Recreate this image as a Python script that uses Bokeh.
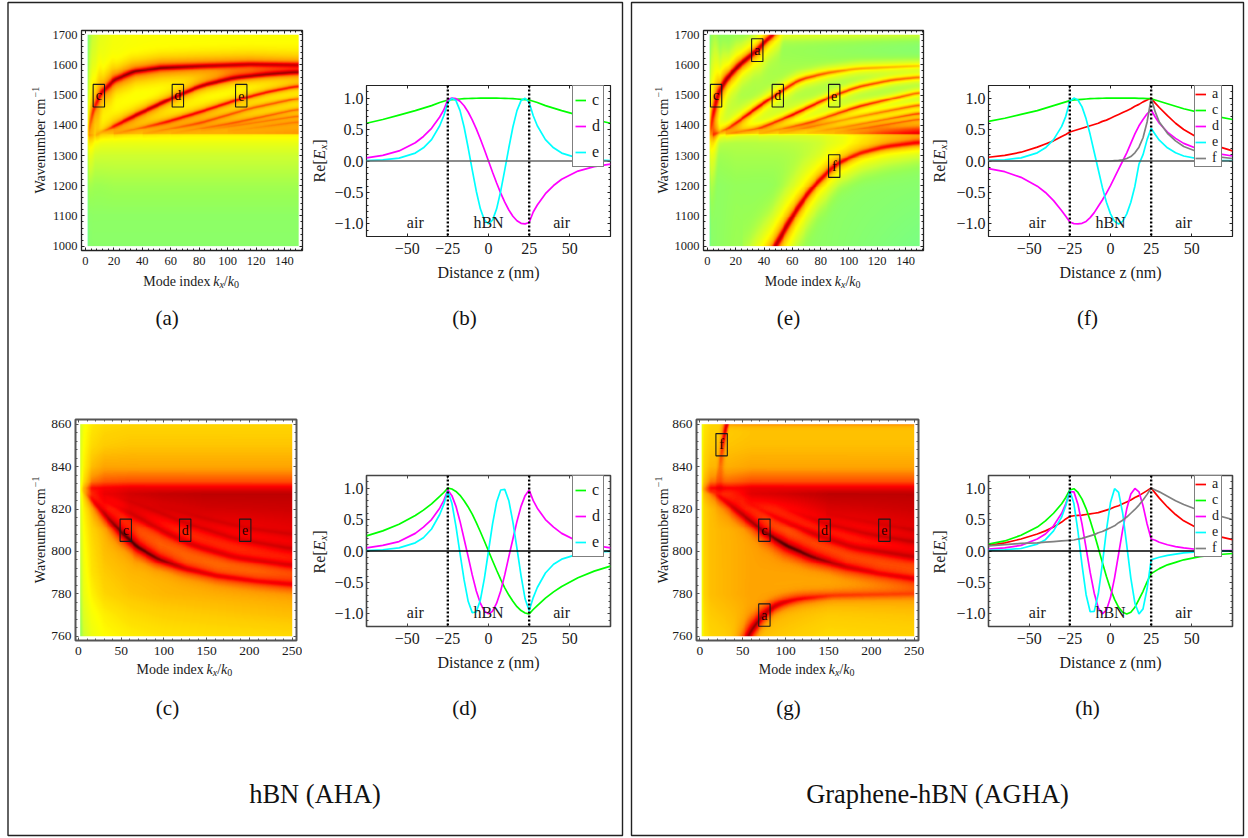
import numpy as np
from bokeh.embed import file_html
from bokeh.resources import INLINE
from bokeh.plotting import figure
from bokeh.core.properties import value
from bokeh.models import (Column, LinearAxis, FixedTicker, LinearColorMapper, Span, Legend, LegendItem)

SERIF = "Liberation Serif"

# ---------- profile data Re[E_x] against z ----------
Z = [-75,-65,-55,-45,-40,-35,-30,-27.5,-25,-22.5,-20,-17.5,-15,-12.5,-10,-7.5,-5,-2.5,0,2.5,5,7.5,10,12.5,15,17.5,20,22.5,25,27.5,30,35,40,45,55,65,75]
B_C = [.60,.66,.73,.80,.84,.88,.93,.95,.97,.975,.98,.985,.99,.993,.995,.997,.999,1,1,1,.999,.997,.995,.993,.99,.985,.98,.975,.97,.95,.93,.88,.84,.80,.73,.66,.60]
B_D = [.05,.09,.16,.29,.39,.52,.70,.81,.977,.999,.99,.949,.878,.779,.655,.51,.349,.178,0,-.178,-.349,-.51,-.655,-.779,-.878,-.949,-.99,-.999,-.977,-.81,-.70,-.52,-.39,-.29,-.16,-.09,-.05]
B_E = [.006,.017,.046,.126,.21,.34,.56,.72,.93,.997,.96,.80,.54,.21,-.14,-.48,-.76,-.94,-1,-.94,-.76,-.48,-.14,.21,.54,.80,.96,.997,.93,.72,.56,.34,.21,.126,.046,.017,.006]
D_C = [.24,.32,.425,.565,.65,.75,.867,.93,1,.985,.947,.885,.80,.70,.585,.45,.306,.155,0,-.155,-.306,-.45,-.585,-.70,-.80,-.885,-.947,-.985,-1,-.93,-.867,-.75,-.65,-.565,-.425,-.32,-.24]
D_D = [.05,.09,.15,.28,.38,.50,.68,.80,.97,.88,.71,.47,.19,-.09,-.38,-.635,-.83,-.957,-1,-.957,-.83,-.635,-.38,-.09,.19,.47,.71,.88,.97,.80,.68,.50,.38,.28,.15,.09,.05]
D_E = [.006,.02,.05,.13,.21,.35,.58,.74,.95,.76,.39,-.04,-.46,-.80,-.98,-.97,-.78,-.43,0,.43,.78,.97,.98,.80,.46,.04,-.39,-.76,-.95,-.74,-.58,-.35,-.21,-.13,-.05,-.02,-.006]
F_A = [.06,.09,.14,.22,.27,.32,.39,.42,.46,.48,.50,.52,.54,.56,.58,.60,.63,.65,.68,.71,.74,.77,.80,.83,.87,.90,.94,.97,1,.92,.85,.72,.60,.50,.35,.24,.16]
F_C = [.63,.68,.74,.80,.84,.88,.92,.94,.96,.97,.975,.98,.985,.99,.993,.995,.997,.999,1,1,1,1,1,.999,.998,.996,.995,.992,.99,.97,.95,.91,.87,.83,.77,.71,.66]
F_D = [-.12,-.17,-.26,-.40,-.50,-.63,-.79,-.88,-.97,-.995,-1,-.99,-.96,-.90,-.82,-.72,-.62,-.51,-.39,-.26,-.13,0,.13,.28,.43,.56,.66,.75,.81,.70,.60,.46,.36,.28,.18,.12,.08]
F_E = [.01,.02,.05,.13,.21,.34,.55,.71,.95,1,.97,.86,.67,.42,.14,-.14,-.42,-.655,-.84,-.96,-1,-.96,-.84,-.655,-.40,-.05,.10,.34,.52,.42,.33,.21,.13,.08,.03,.01,.005]
F_F = [0,0,0,0,0,0,0,0,0,0,0,0,0,0,0,0,0,0,0,.005,.01,.02,.04,.07,.13,.22,.37,.62,1,.78,.62,.44,.32,.23,.13,.07,.04]
H_A = [.09,.13,.19,.27,.32,.38,.46,.51,.55,.56,.565,.57,.58,.59,.60,.61,.63,.65,.67,.70,.72,.75,.78,.81,.85,.88,.92,.96,1,.92,.84,.70,.58,.48,.34,.24,.18]
H_C = [.11,.16,.25,.38,.48,.60,.75,.85,.97,.99,.93,.825,.674,.486,.274,.046,-.184,-.404,-.603,-.769,-.895,-.973,-1,-.973,-.895,-.769,-.64,-.49,-.36,-.32,-.28,-.22,-.18,-.14,-.09,-.06,-.04]
H_D = [.03,.05,.09,.19,.27,.40,.60,.75,.94,.94,.74,.426,.047,-.34,-.67,-.905,-1,-.94,-.74,-.426,-.047,.34,.67,.905,.995,.94,.72,.43,.19,.17,.14,.10,.07,.05,.02,.01,.005]
H_E = [.01,.02,.04,.11,.18,.32,.54,.72,.96,.755,.31,-.226,-.695,-.966,-.96,-.68,-.204,.33,.77,.99,.93,.60,.09,-.43,-.83,-1,-.92,-.6,-.14,-.12,-.10,-.07,-.05,-.03,-.01,-.005,0]
H_F = [.08,.10,.12,.13,.14,.15,.16,.165,.17,.175,.19,.20,.22,.24,.26,.29,.31,.34,.37,.40,.45,.49,.54,.60,.66,.73,.81,.90,1,.97,.94,.87,.80,.74,.64,.57,.50]

LINE_COLORS = {"a": "#ff0000", "c": "#00ff00", "d": "#ff00ff", "e": "#00ffff", "f": "#808080"}
PANEL_B = {"c": B_C, "d": B_D, "e": B_E}
PANEL_D = {"c": D_C, "d": D_D, "e": D_E}
PANEL_F = {"a": F_A, "c": F_C, "d": F_D, "e": F_E, "f": F_F}
PANEL_H = {"a": H_A, "c": H_C, "d": H_D, "e": H_E, "f": H_F}

# ---------- heat colour scale ----------
STOP_V = [0, .15, .25, .35, .5, .6, .68, .76, .82, .9, 1]
STOP_R = [0x55, 0x77, 0x99, 0xcc, 0xff, 0xff, 0xff, 0xff, 0xff, 0xc0, 0x30]
STOP_G = [0xff, 0xff, 0xff, 0xff, 0xff, 0xcc, 0x99, 0x44, 0x00, 0x00, 0x00]
STOP_B = [0xcc, 0x88, 0x55, 0x33, 0x00, 0x00, 0x00, 0x00, 0x00, 0x00, 0x00]
_t = np.linspace(0, 1, 256)
PALETTE = ["#%02x%02x%02x" % (int(np.interp(t, STOP_V, STOP_R)), int(np.interp(t, STOP_V, STOP_G)), int(np.interp(t, STOP_V, STOP_B))) for t in _t]
MAPPER = LinearColorMapper(palette=PALETTE, low=0, high=1)

# ---------- ridges of the heat maps: (x, wavenumber, strength, core px, halo strength, halo px) ----------
A_BG_X = [1.5, 2.6, 5, 10, 20, 40, 80, 150]
A_BG_Y = [1000, 1100, 1200, 1300, 1340, 1360, 1367, 1372, 1400, 1450, 1500, 1600, 1700]
A_BG = [[.10,.20,.21,.21,.21,.21,.21,.21],[.10,.20,.22,.22,.22,.22,.22,.22],[.10,.22,.26,.26,.27,.27,.27,.27],[.14,.32,.35,.36,.36,.36,.36,.36],
        [.18,.40,.43,.44,.44,.44,.44,.44],[.22,.46,.50,.50,.50,.50,.50,.50],[.25,.50,.52,.52,.52,.52,.52,.52],[.25,.46,.50,.52,.58,.60,.63,.68],
        [.25,.44,.48,.50,.54,.56,.60,.64],[.22,.40,.46,.48,.50,.50,.52,.54],[.20,.34,.44,.47,.48,.48,.48,.48],[.15,.28,.38,.46,.48,.48,.48,.48],[.12,.24,.34,.42,.47,.49,.49,.49]]
A_R = [([1.6,4.7,10.5,20,34,52.8,81,116,149],[1373,1444,1505,1549,1577,1590,1596,1602,1600],[.14,.18,.22,.25,.26,.26,.24,.22,.20],2.2,.2,13),
       ([7,20,34,50,64.5,81,104,128,149],[1367,1397,1430,1465,1497,1530,1556,1568,1575],[.04,.18,.25,.28,.28,.28,.26,.24,.22],2,.12,8),
       ([20,57,81,110,128,149],[1370,1411,1444,1488,1510,1529],[.03,.18,.22,.24,.24,.22],1.8,.08,6),
       ([40,81,116,149],[1370,1408,1455,1488],[.02,.12,.16,.18],1.6,.05,5),
       ([60,104,149],[1372,1408,1452],[.01,.1,.14],1.4,.03,4),
       ([81,149],[1381,1430],[.01,.1],1.3,.02,4),
       ([100,149],[1380,1411],[.01,.06],1.3,.02,3)]

C_BG_X = [2, 6, 15, 30, 60, 100, 150, 250]
C_BG_Y = [760, 770, 780, 790, 800, 810, 820, 827, 830, 833, 840, 850, 860]
C_BG = [[.22,.36,.45,.50,.53,.55,.56,.57],[.25,.40,.48,.53,.57,.59,.60,.62],[.28,.44,.52,.58,.61,.63,.64,.66],[.30,.46,.55,.60,.63,.64,.66,.72],
        [.33,.48,.56,.62,.65,.70,.74,.80],[.36,.50,.58,.63,.72,.76,.80,.84],[.38,.52,.62,.70,.82,.85,.87,.88],[.40,.55,.72,.82,.87,.89,.90,.90],
        [.42,.60,.78,.82,.84,.84,.84,.84],[.40,.55,.70,.74,.75,.75,.75,.75],[.38,.52,.62,.66,.66,.66,.66,.66],[.38,.50,.57,.60,.61,.61,.61,.61],[.36,.48,.54,.57,.58,.58,.58,.58]]
C_R = [([0,14.4,30,49.5,69,92.4,124,162.6,209.4,250],[830,824.8,817.7,809,802,796.5,791.8,788.3,785.8,784.4],[.02,.08,.14,.18,.2,.18,.14,.12,.10,.10],2.8,.1,10),
       ([22,45.6,73,104,135,182,250],[825.6,820.8,815.3,808.3,802.8,797.3,793.3],[.0,.03,.07,.09,.09,.09,.09],3,.02,6),
       ([26,73,127.5,182,250],[828,821.6,813,806,801.2],[0,.02,.05,.06,.06],2.5,.01,5),
       ([84.6,143,201.6,250],[822.4,816,810.6,808],[0,.03,.04,.04],2.5,0,5)]

E_BG_X = [1.5, 2.6, 6, 20, 80, 150]
E_BG_Y = [1000, 1200, 1300, 1340, 1362, 1367, 1372, 1390, 1420, 1500, 1600, 1700]
E_BG = [[.10,.20,.22,.26,.22,.16],[.10,.20,.22,.24,.22,.20],[.14,.24,.26,.28,.28,.22],[.18,.30,.30,.30,.32,.32],[.20,.34,.36,.36,.38,.40],
        [.22,.36,.38,.40,.42,.44],[.22,.36,.40,.52,.58,.62],[.22,.34,.38,.46,.56,.60],[.20,.30,.32,.36,.42,.48],[.18,.26,.28,.28,.30,.30],[.14,.24,.26,.28,.26,.22],[.12,.20,.22,.24,.20,.15]]
E_R = [([1,3.8,6.8,12.7,22,35.2,42,46.7,52.5],[1373,1439,1499,1549,1598,1649,1683,1703,1731],[.2,.26,.3,.32,.32,.32,.32,.32,.32],2.6,.32,13),
       ([3.8,12.7,24.4,36,49.7,64.3,83,106.5,149],[1367,1384,1422,1461,1505,1549,1571,1588,1597],[.06,.16,.24,.28,.28,.27,.25,.22,.2],1.8,.24,7),
       ([12.7,36,59.6,89.6,106.5,130,149],[1369,1389,1433,1499,1527,1549,1558],[.04,.14,.24,.26,.26,.25,.24],1.6,.22,5),
       ([36,73.7,106.5,149],[1370,1411,1461,1508],[.03,.16,.24,.24],1.5,.18,4.5),
       ([50,106.5,149],[1372,1428,1466],[.02,.14,.2],1.4,.14,4),
       ([70,149],[1372,1439],[.01,.18],1.3,.1,3),
       ([90,149],[1375,1420],[.01,.12],1.2,.06,3)]
E_R2 = ([25,40.8,47.9,55,64.3,73.7,89.6,106.5,125,149],[800,943,998,1058,1130,1191,1266,1306,1328,1342],[.32,.32,.32,.32,.31,.3,.28,.26,.25,.24],3.0,.34,18)

G_BG_X = [2, 4, 12, 60, 150, 250]
G_BG_Y = [760, 770, 780, 790, 800, 810, 820, 827, 830, 833, 840, 850, 860]
G_BG = [[.40,.54,.58,.62,.57,.58],[.40,.56,.60,.64,.60,.61],[.42,.58,.62,.66,.64,.66],[.42,.58,.62,.66,.66,.70],[.42,.58,.62,.66,.72,.80],
        [.42,.58,.62,.66,.78,.84],[.42,.58,.62,.74,.86,.88],[.44,.60,.66,.85,.90,.90],[.46,.62,.78,.84,.84,.84],[.44,.60,.70,.75,.75,.75],[.42,.58,.63,.66,.66,.66],[.42,.56,.60,.62,.62,.62],[.40,.54,.58,.60,.60,.60]]
G_R = [([0,18,41,75,100,131,170,209,250],[830,827,820,809,802.8,797.3,792.5,789.4,787],[.02,.06,.12,.16,.18,.16,.12,.10,.10],2.8,.1,10),
       ([49,88,131,178,250],[824,816,808.3,802,797.3],[.0,.06,.09,.09,.09],3,.02,6),
       ([88,146.6,193,250],[821.6,813,808.3,804.3],[0,.05,.06,.06],2.5,.01,5),
       ([146.6,250],[817.7,809.8],[.01,.04],2.5,0,5),
       ([30,53,64.7,76.4,92,115,154.4,250],[730,758.7,765.8,771.3,775.2,777.6,779.2,780],[.16,.16,.16,.14,.12,.10,.07,.05],2.6,.14,8),
       ([18,21.8,25.3,28.9,31.6],[832,839.7,850.3,857,861.7],[.0,.04,.12,.2,.2],2.0,.08,5)]

# ---------- marker boxes ----------
A_BOX = [("c", 9.4, 1498), ("d", 65, 1498), ("e", 109.6, 1498)]
C_BOX = [("c", 55.3, 810), ("d", 124.8, 810), ("e", 195, 810)]
E_BOX = [("a", 35.2, 1649), ("c", 6.1, 1498), ("d", 49.7, 1498), ("e", 89.6, 1498), ("f", 89.6, 1265)]
G_BOX = [("a", 75.2, 770), ("c", 75.2, 810), ("d", 145.4, 810), ("e", 215.2, 810), ("f", 25.3, 850.3)]

X_TICKS_150 = [0, 20, 40, 60, 80, 100, 120, 140]
X_TICKS_250 = [0, 50, 100, 150, 200, 250]
Y_TICKS_UP = [1000, 1100, 1200, 1300, 1400, 1500, 1600, 1700]
Y_TICKS_LOW = [760, 780, 800, 820, 840, 860]
Z_TICKS = [-50, -25, 0, 25, 50]
RE_TICKS = [-1.0, -0.5, 0.0, 0.5, 1.0]


def field(x0, x1, y0, y1, bx, by, table, ridge_list, pxx, pxy, nx=440, ny=430):
    xs = np.linspace(x0, x1, nx)
    ys = np.linspace(y0, y1, ny)
    t = np.array(table, dtype=float)
    cols = np.array([np.interp(ys, by, t[:, j]) for j in range(t.shape[1])])
    v = np.array([np.interp(xs, bx, cols[:, i]) for i in range(ny)])
    X, Y = np.meshgrid(xs, ys)
    for rx, ry, ra, w, ha, hw in ridge_list:
        yr = np.interp(xs, rx, ry)
        s0 = (ry[1] - ry[0]) / (rx[1] - rx[0])
        yr = np.where(xs < rx[0], ry[0] + (xs - rx[0]) * s0, yr)
        k = 11 if (rx[0] < 3 or rx[-1] - rx[0] < 20) else 33
        ker = np.ones(k) / k
        pad = np.r_[yr[0] - s0 * (xs[1] - xs[0]) * np.arange(k // 2, 0, -1), yr, np.full(k // 2, yr[-1])]
        yr = np.convolve(pad, ker, mode="valid")
        amp = np.interp(xs, rx, ra, left=0.0)
        halo = ha * amp / max(ra)
        slope = np.gradient(yr * pxy, xs * pxx)
        d = (Y - yr[None, :]) * pxy / np.sqrt(1 + slope[None, :] ** 2)
        v += amp[None, :] / (1 + (d / w) ** 2) + halo[None, :] * np.exp(-(d / hw) ** 2)
    return np.clip(v, 0, 1)


def style_axes(p, xt, yt, xminor, yminor, fs, col, lw, tick=4, xover=None, yover=None, xstand=6, ystand=4):
    common = dict(major_tick_in=tick, major_tick_out=0, minor_tick_in=2, minor_tick_out=0,
                  major_tick_line_color=col, minor_tick_line_color=col, axis_line_color=None,
                  major_label_text_font=SERIF, major_label_text_font_size=fs, major_label_text_color="#1a1a1a",
                  major_tick_line_width=1, minor_tick_line_width=1)
    xa, ya = p.below[0], p.left[0]
    xa.ticker = FixedTicker(ticks=xt, minor_ticks=xminor)
    ya.ticker = FixedTicker(ticks=yt, minor_ticks=yminor)
    for a in (xa, ya):
        for k, val in common.items():
            setattr(a, k, val)
    xa.major_label_standoff = xstand
    ya.major_label_standoff = ystand
    if xover:
        xa.major_label_overrides = xover
    if yover:
        ya.major_label_overrides = yover
    for side, tk in (("above", xa.ticker), ("right", ya.ticker)):
        ax = LinearAxis(ticker=tk, major_label_text_font_size="0px", **{k: v for k, v in common.items() if not k.startswith("major_label")})
        ax.major_label_text_color = None
        p.add_layout(ax, side)
    p.xgrid.visible = False
    p.ygrid.visible = False
    p.outline_line_color = col
    p.outline_line_width = lw
    p.background_fill_color = "white"
    p.border_fill_color = None


def place(p, left, top):
    p.styles = {"position": "absolute", "left": "%dpx" % left, "top": "%dpx" % top, "margin": "0"}
    return p


BL, BR, BT, BB = 62, 6, 6, 52


def heat(fx0, fy0, fx1, fy1, xr, yr, img_x, img_y, bg_, ridge_list, boxes, xticks, xminor, yticks, yminor, fs, col, lw, bw, bh):
    fw, fh = fx1 - fx0, fy1 - fy0
    p = figure(frame_width=fw, frame_height=fh, x_range=xr, y_range=yr, output_backend="svg", toolbar_location=None, frame_align=False,
               min_border_left=BL, min_border_right=BR, min_border_top=BT, min_border_bottom=BB)
    style_axes(p, xticks, yticks, xminor, yminor, fs, col, lw, tick=3)
    arr = field(img_x[0], img_x[1], img_y[0], img_y[1], bg_[0], bg_[1], bg_[2], ridge_list, fw / (xr[1] - xr[0]), fh / (yr[1] - yr[0]))
    p.image(image=[arr], x=img_x[0], y=img_y[0], dw=img_x[1] - img_x[0], dh=img_y[1] - img_y[0], color_mapper=MAPPER)
    p.rect(x=[b[1] for b in boxes], y=[b[2] for b in boxes], width=bw, height=bh, fill_color=None, line_color="#1a1a1a", line_width=1.1)
    p.text(x=[b[1] for b in boxes], y=[b[2] for b in boxes], text=[b[0] for b in boxes], text_font=value(SERIF), text_font_size="14px",
           text_align="center", text_baseline="middle", text_color="#200000")
    return place(p, fx0 - BL, fy0 - BT)


def profile(fx0, fy0, fx1, fy1, series, col, lw, zero_col):
    fw, fh = fx1 - fx0, fy1 - fy0
    p = figure(frame_width=fw, frame_height=fh, x_range=(-75, 75), y_range=(-1.2, 1.2), output_backend="svg", toolbar_location=None, frame_align=False,
               min_border_left=BL, min_border_right=BR, min_border_top=BT, min_border_bottom=BB)
    ymin = [round(-1.2 + .1 * i, 1) for i in range(25)]
    ov = {-50: "\u221250", -25: "\u221225", 0: "0", 25: "25", 50: "50"}
    oy = {-1.0: "\u22121.0", -0.5: "\u22120.5", 0.0: "0.0", 0.5: "0.5", 1.0: "1.0"}
    style_axes(p, Z_TICKS, RE_TICKS, [], ymin, "16px", col, lw, tick=3, xover=ov, yover=oy, xstand=6, ystand=3)
    xa = p.below[0]
    xa.axis_label = "Distance z (nm)"
    xa.axis_label_text_font = SERIF
    xa.axis_label_text_font_size = "16px"
    xa.axis_label_text_font_style = "normal"
    xa.axis_label_text_color = "#1a1a1a"
    xa.axis_label_standoff = 7
    p.add_layout(Span(location=0, dimension="width", line_color=zero_col, line_width=1.4))
    items = []
    for name, vals in series.items():
        r = p.line(Z, vals, line_color=LINE_COLORS[name], line_width=1.7)
        items.append(LegendItem(label=name, renderers=[r]))
    for loc in (-25, 25):
        p.add_layout(Span(location=loc, dimension="height", line_color="black", line_width=2.4, line_dash="2 2"))
    p.text(x=[-45, 0, 45], y=[-0.98, -0.98, -0.98], text=["air", "hBN", "air"], text_font=value(SERIF), text_font_size="16px",
           text_align="center", text_baseline="middle", text_color="#1a1a1a")
    n = len(items)
    lg = Legend(items=items, location=(206, 69), orientation="vertical", background_fill_color="white", background_fill_alpha=1,
                border_line_color="black", border_line_width=1.5, label_text_font=SERIF, label_text_font_size="16px" if n == 3 else "14px",
                glyph_width=11, glyph_height=24 if n == 3 else 14, label_height=24 if n == 3 else 14, label_width=9,
                spacing=2 if n == 3 else 0, padding=2 if n == 3 else 0, margin=0, label_standoff=6, label_text_color="#1a1a1a")
    p.add_layout(lg)
    return place(p, fx0 - BL, fy0 - BT)


# ---------- background sheet: panel frames, captions, composed labels ----------
bg = figure(frame_width=1248, frame_height=838, x_range=(0, 1248), y_range=(838, 0), output_backend="svg", toolbar_location=None, frame_align=False,
            min_border_left=0, min_border_right=0, min_border_top=0, min_border_bottom=0, x_axis_type=None, y_axis_type=None)
bg.outline_line_color = None
bg.xgrid.visible = False
bg.ygrid.visible = False
bg.quad(left=[7.5, 631], right=[622, 1243], top=[2, 2], bottom=[835, 835], fill_color="white", line_color="#222222", line_width=1.4)

EM = {"M": .889, "o": .5, "d": .5, "e": .444, " ": .25, "i": .278, "n": .5, "x": .444, "k": .444, "/": .278, "0": .5,
      "W": .944, "a": .444, "v": .5, "u": .5, "m": .778, "b": .5, "r": .333, "c": .444, "\u2212": .564, "1": .5, "R": .667, "[": .333, "E": .611, "]": .333}


def compose(x, y, pieces, vertical=False):
    for txt, style, size, shift in pieces:
        ang = np.pi / 2 if vertical else 0
        px, py = (x + shift, y) if vertical else (x, y + shift)
        bg.text(x=[px], y=[py], text=[txt], angle=ang, text_font=value(SERIF), text_font_size="%gpx" % size, text_font_style=style,
                text_baseline="alphabetic", text_align="left", text_color="#1a1a1a")
        adv = sum(EM[ch] for ch in txt) * size
        if vertical:
            y -= adv
        else:
            x += adv


MODE = [("Mode index ", "normal", 14, 0), ("k", "italic", 14, 0), ("x", "italic", 10, 3), ("/", "normal", 14, 0), ("k", "italic", 14, 0), ("0", "normal", 10, 3)]
WAVE = [("Wavenumber cm", "normal", 14, 0), ("\u22121", "normal", 10, -5)]
REEX = [("Re[", "normal", 16, 0), ("E", "italic", 16, 0), ("x", "italic", 11, 3), ("]", "normal", 16, 0)]
for lx, ly in ((142.7, 281), (764.3, 281), (136, 669.3), (758.3, 669.3)):
    compose(lx, ly, MODE)
for wx, wy in ((40, 193), (662.7, 193), (40, 582.7), (662.7, 582.7)):
    compose(wx, wy, WAVE, vertical=True)
for rx_, ry_ in ((319, 182), (939, 182), (319, 573), (939, 573)):
    compose(rx_, ry_, REEX, vertical=True)

CAP_TEXT = ["(a)", "(b)", "(c)", "(d)", "(e)", "(f)", "(g)", "(h)"]
CAP_X = [166.7, 464, 167, 464, 788, 1087, 788, 1087]
CAP_Y = [317, 317, 707, 707, 317, 317, 707, 707]
bg.text(x=CAP_X, y=CAP_Y, text=CAP_TEXT, text_font=value(SERIF), text_font_size="21px", text_align="center", text_baseline="middle", text_color="#111111")
bg.text(x=[314.5, 937], y=[793, 793], text=["hBN (AHA)", "Graphene-hBN (AGHA)"], text_font=value(SERIF), text_font_size="26.5px",
        text_align="center", text_baseline="middle", text_color="#111111")
place(bg, 0, 0)

minor_150 = [i * 4 for i in range(0, 39)]
minor_250 = [i * 10 for i in range(0, 26)]
minor_up = [1000 + 20 * i for i in range(0, 36)]
minor_low = [760 + 4 * i for i in range(0, 26)]

pa = heat(81, 30, 302, 250, (-2.8, 152.7), (985.5, 1714), (1.5, 150), (1000, 1700), (A_BG_X, A_BG_Y, A_BG), A_R, A_BOX,
          X_TICKS_150, minor_150, Y_TICKS_UP, minor_up, "12.5px", "#222222", 1.3, 8, 75)
pc = heat(75, 419, 296, 640, (-3.5, 255), (758, 862.2), (2, 250), (760, 860), (C_BG_X, C_BG_Y, C_BG), C_R, C_BOX,
          X_TICKS_250, minor_250, Y_TICKS_LOW, minor_low, "13.5px", "#555555", 2, 13.3, 10.5)
pe = heat(703, 30, 923, 250, (-2.8, 152.7), (985.5, 1714), (1.5, 150), (1000, 1700), (E_BG_X, E_BG_Y, E_BG), E_R + [E_R2], E_BOX,
          X_TICKS_150, minor_150, Y_TICKS_UP, minor_up, "12.5px", "#222222", 1.3, 8, 75)
pg = heat(696, 419, 918, 640, (-4, 255), (758, 862.2), (2, 250), (760, 860), (G_BG_X, G_BG_Y, G_BG), G_R, G_BOX,
          X_TICKS_250, minor_250, Y_TICKS_LOW, minor_low, "13.5px", "#555555", 2, 13.3, 10.5)
pb = profile(366, 85, 610, 236, PANEL_B, "#222222", 1.2, "#666666")
pd_ = profile(366, 475, 610, 626, PANEL_D, "#444444", 1.6, "black")
pf = profile(988, 85, 1232, 236, PANEL_F, "#222222", 1.2, "#555555")
ph = profile(988, 475, 1232, 626, PANEL_H, "#444444", 1.6, "black")

root = Column(children=[bg, pa, pb, pc, pd_, pe, pf, pg, ph], width=1248, height=838,
              styles={"position": "absolute", "left": "0px", "top": "0px"})
open("out.html", "w").write(file_html(root, INLINE))
